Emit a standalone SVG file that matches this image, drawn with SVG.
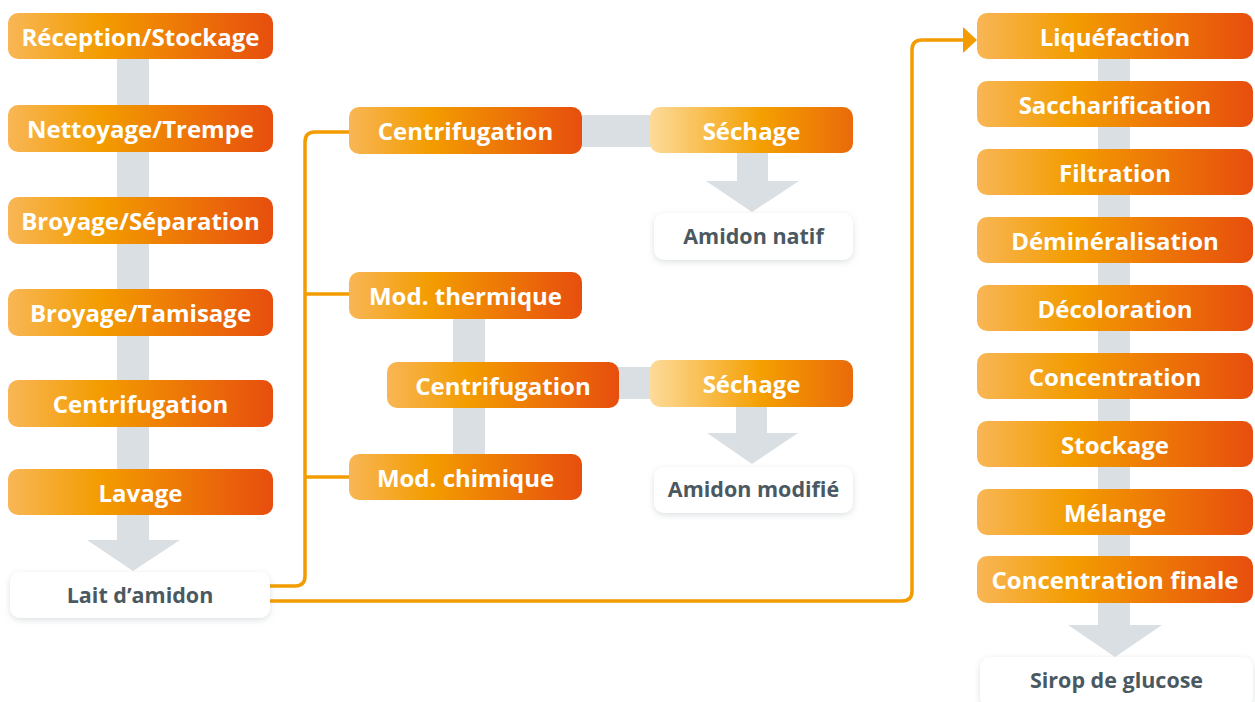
<svg xmlns="http://www.w3.org/2000/svg" width="1255" height="702" viewBox="0 0 1255 702">
<defs>
<linearGradient id="gOr" x1="0" y1="0" x2="1" y2="0">
<stop offset="0" stop-color="#f8b655"/>
<stop offset="0.35" stop-color="#f39c00"/>
<stop offset="1" stop-color="#e74e0e"/>
</linearGradient>
<linearGradient id="gSe" x1="0" y1="0" x2="1" y2="0">
<stop offset="0" stop-color="#fddb9a"/>
<stop offset="0.55" stop-color="#f49f00"/>
<stop offset="1" stop-color="#ea6a0a"/>
</linearGradient>
<filter id="sh" x="-10%" y="-20%" width="120%" height="150%">
<feDropShadow dx="0" dy="2" stdDeviation="3" flood-color="#8a949c" flood-opacity="0.3"/>
</filter>
<style>
.b{fill:url(#gOr)}
.s{fill:url(#gSe)}
.w{fill:#ffffff;filter:url(#sh)}
.g{fill:#dadfe3}
.t{font-family:"Open Sans",Lato,"Liberation Sans",sans-serif;font-weight:700;font-size:24px;fill:#ffffff;text-anchor:middle}
.d{font-family:"Open Sans",Lato,"Liberation Sans",sans-serif;font-weight:700;font-size:21.5px;fill:#4a5961;text-anchor:middle}
.o{fill:none;stroke:#f39c00;stroke-width:3.5}
</style>
</defs>
<rect width="1255" height="702" fill="#ffffff"/>
<g id="connectors">
<rect class="g" x="117" y="59" width="32" height="482"/>
<polygon class="g" points="87,540 180,540 133,571"/>
<rect class="g" x="1098" y="59" width="32" height="567"/>
<polygon class="g" points="1068,625 1162,625 1115,657"/>
<rect class="g" x="453" y="319" width="32" height="136"/>
<rect class="g" x="580" y="115" width="72" height="32"/>
<rect class="g" x="617" y="367" width="35" height="32"/>
<rect class="g" x="737" y="152" width="31" height="30"/>
<polygon class="g" points="706,181 799,181 752,212"/>
<rect class="g" x="736" y="406" width="31" height="28"/>
<polygon class="g" points="707,433 798,433 752,464"/>
<path class="o" d="M270,586 H295 Q305,586 305,576 V142 Q305,132 315,132 H350"/>
<path class="o" d="M305,294 H350"/>
<path class="o" d="M305,477 H350"/>
<path class="o" d="M270,601 H902 Q912,601 912,591 V50 Q912,40 922,40 H965"/>
<polygon points="963,27 977,40 963,53" fill="#f39c00"/>
</g>
<g id="n-reception"><rect class="b" x="8" y="13" width="265" height="46" rx="10"/><text class="t" x="140.5" y="46">Réception/Stockage</text></g>
<g id="n-nettoyage"><rect class="b" x="8" y="105" width="265" height="47" rx="10"/><text class="t" x="140.5" y="138">Nettoyage/Trempe</text></g>
<g id="n-broyage-sep"><rect class="b" x="8" y="197" width="265" height="47" rx="10"/><text class="t" x="140.5" y="230">Broyage/Séparation</text></g>
<g id="n-broyage-tam"><rect class="b" x="8" y="289" width="265" height="47" rx="10"/><text class="t" x="140.5" y="322">Broyage/Tamisage</text></g>
<g id="n-centri-left"><rect class="b" x="8" y="380" width="265" height="47" rx="10"/><text class="t" x="140.5" y="413">Centrifugation</text></g>
<g id="n-lavage"><rect class="b" x="8" y="469" width="265" height="46" rx="10"/><text class="t" x="140.5" y="502">Lavage</text></g>
<g id="n-lait"><rect class="w" x="10" y="572" width="260" height="46" rx="10"/><text class="d" x="140" y="603">Lait d’amidon</text></g>
<g id="n-centri-1"><rect class="b" x="349" y="107" width="233" height="47" rx="10"/><text class="t" x="465.5" y="140">Centrifugation</text></g>
<g id="n-sechage-1"><rect class="s" x="650" y="107" width="203" height="46" rx="10"/><text class="t" x="751.5" y="140">Séchage</text></g>
<g id="n-amidon-natif"><rect class="w" x="654" y="213" width="199" height="47" rx="10"/><text class="d" x="753.5" y="244">Amidon natif</text></g>
<g id="n-mod-therm"><rect class="b" x="349" y="272" width="233" height="47" rx="10"/><text class="t" x="465.5" y="305">Mod. thermique</text></g>
<g id="n-centri-2"><rect class="b" x="387" y="362" width="232" height="46" rx="10"/><text class="t" x="503" y="395">Centrifugation</text></g>
<g id="n-sechage-2"><rect class="s" x="650" y="360" width="203" height="47" rx="10"/><text class="t" x="751.5" y="393">Séchage</text></g>
<g id="n-mod-chim"><rect class="b" x="349" y="454" width="233" height="46" rx="10"/><text class="t" x="465.5" y="487">Mod. chimique</text></g>
<g id="n-amidon-mod"><rect class="w" x="654" y="467" width="199" height="46" rx="10"/><text class="d" x="753.5" y="497">Amidon modifié</text></g>
<g id="n-liquefaction"><rect class="b" x="977" y="13" width="276" height="46" rx="10"/><text class="t" x="1115" y="46">Liquéfaction</text></g>
<g id="n-saccharification"><rect class="b" x="977" y="81" width="276" height="46" rx="10"/><text class="t" x="1115" y="114">Saccharification</text></g>
<g id="n-filtration"><rect class="b" x="977" y="149" width="276" height="46" rx="10"/><text class="t" x="1115" y="182">Filtration</text></g>
<g id="n-demineralisation"><rect class="b" x="977" y="217" width="276" height="46" rx="10"/><text class="t" x="1115" y="250">Déminéralisation</text></g>
<g id="n-decoloration"><rect class="b" x="977" y="285" width="276" height="46" rx="10"/><text class="t" x="1115" y="318">Décoloration</text></g>
<g id="n-concentration"><rect class="b" x="977" y="353" width="276" height="46" rx="10"/><text class="t" x="1115" y="386">Concentration</text></g>
<g id="n-stockage"><rect class="b" x="977" y="421" width="276" height="46" rx="10"/><text class="t" x="1115" y="454">Stockage</text></g>
<g id="n-melange"><rect class="b" x="977" y="489" width="276" height="46" rx="10"/><text class="t" x="1115" y="522">Mélange</text></g>
<g id="n-conc-finale"><rect class="b" x="977" y="556" width="276" height="47" rx="10"/><text class="t" x="1115" y="589">Concentration finale</text></g>
<g id="n-sirop"><rect class="w" x="980" y="657" width="273" height="50" rx="10"/><text class="d" x="1116.5" y="688">Sirop de glucose</text></g>
</svg>
